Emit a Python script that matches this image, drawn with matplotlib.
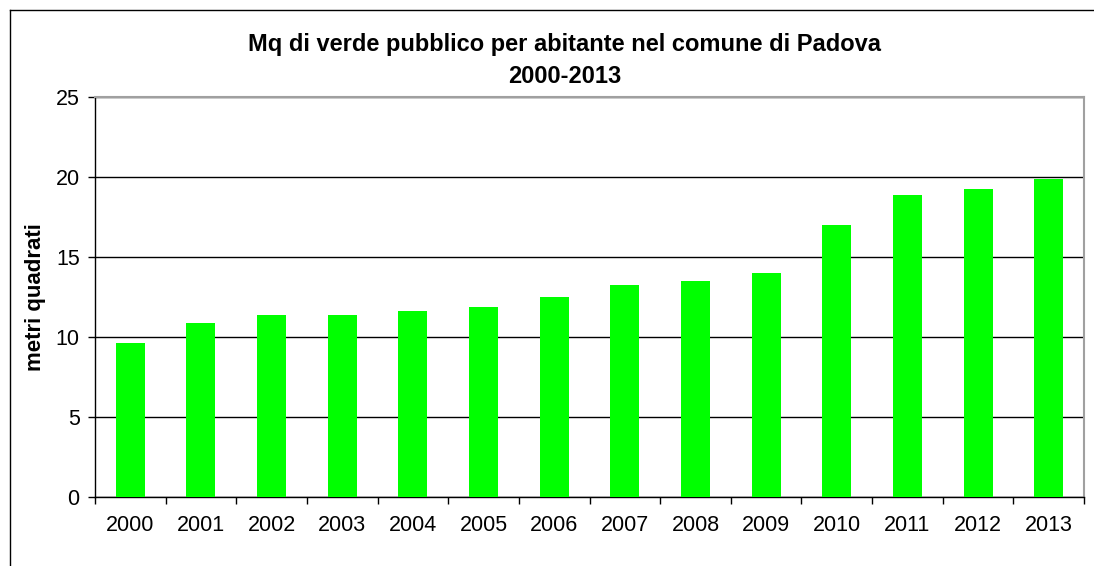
import matplotlib.pyplot as plt
from matplotlib.lines import Line2D

# dati
anni = ["2000", "2001", "2002", "2003", "2004", "2005", "2006",
        "2007", "2008", "2009", "2010", "2011", "2012", "2013"]
mq_abitante = [9.6, 10.9, 11.4, 11.4, 11.6, 11.9, 12.5,
               13.25, 13.5, 14.0, 17.0, 18.9, 19.25, 19.9]

plt.rcParams['font.family'] = ['Liberation Sans', 'DejaVu Sans']

fig = plt.figure(figsize=(10.94, 5.66), dpi=100)
ax = fig.add_axes([95 / 1094, 69 / 566, 989 / 1094, 400 / 566])

x = range(len(anni))
ax.bar(x, mq_abitante, width=0.41, color="#00ff00", zorder=3)

ax.set_xlim(-0.5, len(anni) - 0.5)
ax.set_ylim(0, 25)
ax.set_yticks([0, 5, 10, 15, 20, 25])
ax.set_xticks(x)
ax.set_xticklabels(anni, fontsize=15.5)
ax.set_xticks([i - 0.5 for i in range(len(anni) + 1)], minor=True)
ax.tick_params(axis="x", which="major", length=0, pad=13)
ax.tick_params(axis="x", which="minor", length=5, width=1, direction="out")
ax.tick_params(axis="y", length=5, width=1, direction="out", labelsize=15.5, pad=6)

ax.yaxis.grid(True, color="black", linewidth=1, zorder=0)
ax.set_axisbelow(True)
for s in ["top", "right"]:
    ax.spines[s].set_color("#a0a0a0")
    ax.spines[s].set_linewidth(1.5)
for s in ["left", "bottom"]:
    ax.spines[s].set_color("black")
    ax.spines[s].set_linewidth(1)

ax.set_ylabel("metri quadrati", fontsize=16, fontweight="bold", labelpad=7)

fig.text(565 / 1094, 1 - 45 / 566, "Mq di verde pubblico per abitante nel comune di Padova",
         ha="center", va="center", fontsize=17, fontweight="bold")
fig.text(565 / 1094, 1 - 76 / 566, "2000-2013",
         ha="center", va="center", fontsize=17, fontweight="bold")

# cornice esterna
fig.add_artist(Line2D([10 / 1094, 10 / 1094], [0, 1 - 10 / 566], color="black", linewidth=1))
fig.add_artist(Line2D([10 / 1094, 1], [1 - 10 / 566, 1 - 10 / 566], color="black", linewidth=1))

fig.savefig("out.png", dpi=100)
